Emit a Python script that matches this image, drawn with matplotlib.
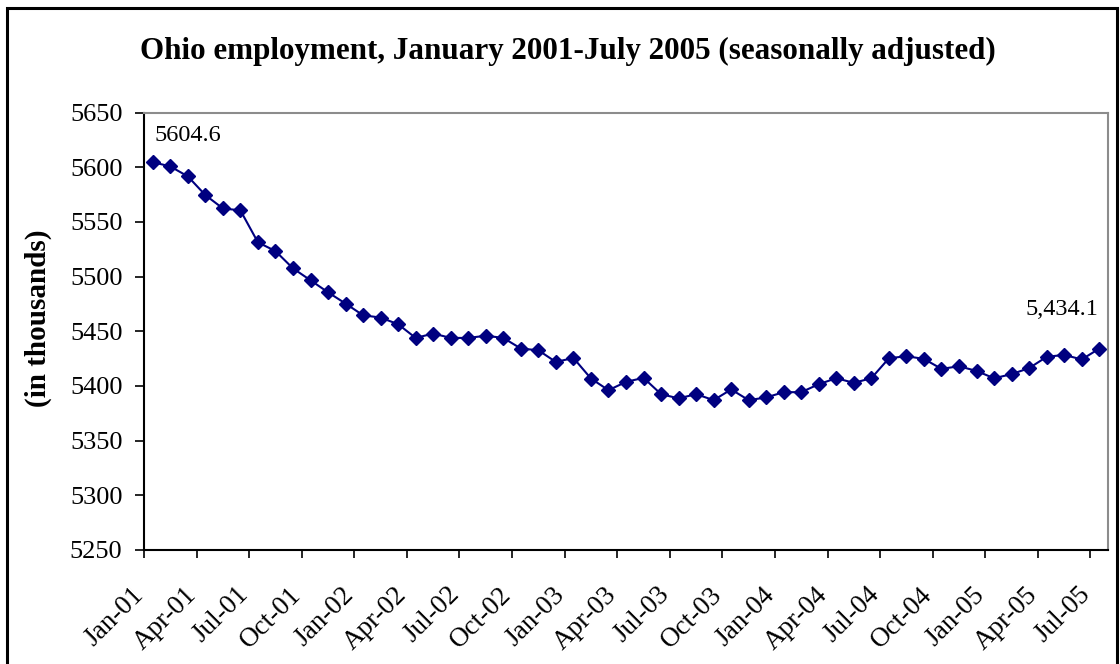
import matplotlib
matplotlib.use('Agg')
import matplotlib.pyplot as plt
import matplotlib.transforms as mtransforms
from matplotlib.patches import Rectangle

# Ohio nonfarm employment, thousands, seasonally adjusted (Jan 2001 - Jul 2005)
values_2001 = [5604.6, 5600.7, 5591.6, 5574.5, 5562.3, 5560.5,
               5531.3, 5523.3, 5507.5, 5496.6, 5485.6, 5475.3]
values_2002 = [5464.6, 5462.5, 5456.4, 5443.9, 5447.9, 5443.9,
               5443.9, 5445.9, 5443.9, 5434.2, 5432.6, 5421.9]
values_2003 = [5425.6, 5406.8, 5396.1, 5403.7, 5407.4, 5392.5,
               5388.6, 5392.5, 5387.0, 5396.8, 5387.0, 5389.5]
values_2004 = [5394.3, 5394.3, 5401.6, 5407.1, 5402.8, 5407.1,
               5425.3, 5427.2, 5424.7, 5415.6, 5418.0, 5413.7]
values_2005 = [5407.0, 5410.8, 5416.3, 5426.6, 5428.4, 5424.2, 5434.1]

tick_labels = ['Jan-01', 'Apr-01', 'Jul-01', 'Oct-01',
               'Jan-02', 'Apr-02', 'Jul-02', 'Oct-02',
               'Jan-03', 'Apr-03', 'Jul-03', 'Oct-03',
               'Jan-04', 'Apr-04', 'Jul-04', 'Oct-04',
               'Jan-05', 'Apr-05', 'Jul-05']

first_label = '5604.6'
last_label = '5,434.1'

employment = values_2001 + values_2002 + values_2003 + values_2004 + values_2005
months = list(range(len(employment)))

plt.rcParams['font.family'] = ['Liberation Serif', 'DejaVu Serif']

fig = plt.figure(figsize=(11.2, 6.64), dpi=100)
ax = fig.add_axes([144 / 1120, 1 - 550 / 664, (1108 - 144) / 1120, (550 - 112.5) / 664])

ax.plot(months, employment, color='#000080', linewidth=1.5,
        marker='D', markersize=7.5, markerfacecolor='#000080',
        markeredgecolor='#000080')

# category axis: points in the middle of each month slot
ax.set_xlim(-0.5, len(employment) - 0.5)
ax.set_ylim(5250, 5650)
ax.set_yticks(range(5250, 5651, 50))

ax.set_xticks([i - 0.5 for i in range(0, len(employment), 3)])
ax.set_xticklabels([])
ax.set_xticks(list(range(0, len(employment), 3)), minor=True)
ax.set_xticklabels(tick_labels, minor=True, rotation=45, ha='right',
                   va='center', rotation_mode='anchor', fontsize=19.5)
ax.tick_params(axis='x', which='minor', length=0, pad=29.5)
ax.tick_params(axis='x', which='major', direction='out', length=6, width=1.2)
ax.tick_params(axis='y', direction='out', length=6.5, width=1.2,
               labelsize=19, pad=9)

# Excel puts the rotated labels a little left of the category centre
shift = mtransforms.ScaledTranslation(-13 / 100, 0, fig.dpi_scale_trans)
for lab in ax.get_xticklabels(minor=True):
    lab.set_transform(lab.get_transform() + shift)

for side in ['left', 'bottom']:
    ax.spines[side].set_color('black')
    ax.spines[side].set_linewidth(1.5)
for side in ['top', 'right']:
    ax.spines[side].set_color('#8c8c8c')
    ax.spines[side].set_linewidth(1.5)

ax.set_ylabel('(in thousands)', fontsize=21, fontweight='bold')
ax.yaxis.set_label_coords(-0.0954, 0.53)

ax.annotate(first_label, (months[0], employment[0]), xytext=(25, 19),
            textcoords='offset points', ha='center', va='center', fontsize=17.5)
ax.annotate(last_label, (months[-1], employment[-1]), xytext=(-27, 28.5),
            textcoords='offset points', ha='center', va='center', fontsize=17.5)

fig.text(0.507, 1 - 51 / 664,
         'Ohio employment, January 2001-July 2005 (seasonally adjusted)',
         ha='center', va='center', fontsize=22.4, fontweight='bold')

# chart frame, bottom edge falls outside the image
fig.patches.append(Rectangle((7 / 1120, -0.1), (1117 - 7) / 1120, 1.1 - 8 / 664,
                             transform=fig.transFigure, fill=False,
                             edgecolor='black', linewidth=2.2))

fig.savefig('out.png', dpi=100)
